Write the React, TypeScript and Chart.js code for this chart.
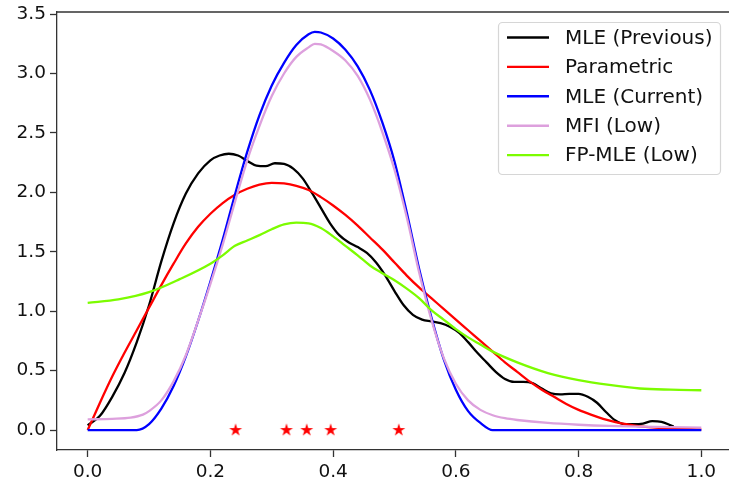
import React, { useEffect, useRef } from "react";
import { Chart, registerables } from "chart.js";

Chart.register(...registerables);

// ---- data ----
const seriesLabels = ["MLE (Previous)", "Parametric", "MLE (Current)", "MFI (Low)", "FP-MLE (Low)"];
const seriesColors = ["#000000", "#ff0000", "#0000ff", "#dda0dd", "#7cfc00"];

const blackX = [0, 0.02, 0.04, 0.06, 0.08, 0.10, 0.12, 0.14, 0.16, 0.18, 0.20, 0.215, 0.23, 0.245, 0.26, 0.275, 0.29, 0.305, 0.32, 0.335, 0.35, 0.365, 0.38, 0.395, 0.41, 0.425, 0.44, 0.455, 0.47, 0.485, 0.50, 0.515, 0.53, 0.545, 0.56, 0.575, 0.59, 0.605, 0.62, 0.635, 0.65, 0.665, 0.68, 0.695, 0.71, 0.725, 0.74, 0.755, 0.77, 0.785, 0.80, 0.815, 0.83, 0.845, 0.86, 0.875, 0.89, 0.905, 0.92, 0.935, 0.95, 0.955];
const blackY = [0.04, 0.12, 0.28, 0.48, 0.74, 1.05, 1.42, 1.74, 1.99, 2.16, 2.27, 2.31, 2.325, 2.31, 2.265, 2.225, 2.22, 2.245, 2.24, 2.20, 2.12, 2.0, 1.87, 1.74, 1.64, 1.58, 1.54, 1.49, 1.41, 1.30, 1.17, 1.05, 0.97, 0.93, 0.915, 0.90, 0.87, 0.82, 0.74, 0.65, 0.57, 0.49, 0.43, 0.405, 0.405, 0.395, 0.35, 0.31, 0.30, 0.305, 0.305, 0.28, 0.23, 0.15, 0.08, 0.05, 0.05, 0.055, 0.075, 0.07, 0.04, 0.03];

const redX = [0, 0.02, 0.04, 0.06, 0.08, 0.10, 0.12, 0.14, 0.16, 0.18, 0.20, 0.22, 0.24, 0.26, 0.28, 0.30, 0.32, 0.34, 0.36, 0.38, 0.40, 0.42, 0.44, 0.46, 0.48, 0.50, 0.52, 0.54, 0.56, 0.58, 0.60, 0.62, 0.64, 0.66, 0.68, 0.70, 0.72, 0.74, 0.76, 0.78, 0.80, 0.82, 0.84, 0.86, 0.88, 0.90, 0.92, 0.95, 1.0];
const redY = [0, 0.23, 0.45, 0.65, 0.84, 1.03, 1.22, 1.40, 1.57, 1.71, 1.82, 1.91, 1.98, 2.03, 2.065, 2.08, 2.075, 2.055, 2.02, 1.96, 1.89, 1.81, 1.72, 1.62, 1.52, 1.41, 1.30, 1.20, 1.11, 1.02, 0.93, 0.84, 0.75, 0.66, 0.57, 0.49, 0.41, 0.34, 0.28, 0.22, 0.17, 0.13, 0.095, 0.068, 0.047, 0.032, 0.022, 0.012, 0.005];

const blueX = [0, 0.04, 0.08, 0.10, 0.12, 0.14, 0.16, 0.18, 0.20, 0.22, 0.24, 0.26, 0.28, 0.30, 0.32, 0.34, 0.36, 0.37, 0.38, 0.40, 0.42, 0.44, 0.46, 0.48, 0.50, 0.52, 0.54, 0.56, 0.58, 0.60, 0.62, 0.64, 0.66, 0.70, 0.80, 0.90, 1.0];
const blueY = [0, 0, 0, 0.05, 0.18, 0.37, 0.62, 0.92, 1.25, 1.6, 1.98, 2.34, 2.65, 2.9, 3.09, 3.24, 3.33, 3.35, 3.345, 3.295, 3.2, 3.06, 2.86, 2.59, 2.26, 1.83, 1.36, 0.95, 0.6, 0.34, 0.16, 0.06, 0, 0, 0, 0, 0];

const plumX = [0, 0.04, 0.07, 0.09, 0.10, 0.12, 0.14, 0.16, 0.18, 0.20, 0.22, 0.24, 0.26, 0.28, 0.30, 0.32, 0.34, 0.36, 0.37, 0.38, 0.40, 0.42, 0.44, 0.46, 0.48, 0.50, 0.52, 0.54, 0.56, 0.58, 0.60, 0.62, 0.64, 0.66, 0.68, 0.70, 0.75, 0.80, 0.85, 0.90, 0.95, 1.0];
const plumY = [0.09, 0.095, 0.105, 0.13, 0.16, 0.25, 0.41, 0.63, 0.92, 1.23, 1.56, 1.92, 2.27, 2.56, 2.81, 3.0, 3.14, 3.22, 3.25, 3.245, 3.19, 3.11, 2.98, 2.78, 2.51, 2.19, 1.79, 1.33, 0.93, 0.61, 0.39, 0.25, 0.17, 0.125, 0.1, 0.085, 0.06, 0.045, 0.035, 0.03, 0.025, 0.02];

const greenX = [0, 0.05, 0.10, 0.15, 0.20, 0.22, 0.24, 0.26, 0.28, 0.30, 0.32, 0.34, 0.36, 0.38, 0.40, 0.42, 0.44, 0.46, 0.48, 0.50, 0.52, 0.54, 0.56, 0.58, 0.60, 0.62, 0.64, 0.66, 0.70, 0.75, 0.80, 0.85, 0.90, 0.95, 1.0];
const greenY = [1.07, 1.10, 1.16, 1.27, 1.40, 1.47, 1.55, 1.595, 1.64, 1.69, 1.73, 1.745, 1.74, 1.70, 1.63, 1.55, 1.47, 1.385, 1.32, 1.26, 1.19, 1.11, 1.01, 0.93, 0.85, 0.78, 0.72, 0.66, 0.57, 0.48, 0.42, 0.38, 0.35, 0.34, 0.335];

const starX = [0.241, 0.324, 0.357, 0.396, 0.507];
const starY = [0, 0, 0, 0, 0];

const xTicks = [0, 0.2, 0.4, 0.6, 0.8, 1.0];
const yTicks = [0, 0.5, 1.0, 1.5, 2.0, 2.5, 3.0, 3.5];

const FONT = "'DejaVu Sans', sans-serif";
const CANVAS_W = 800;
const PLOT_RIGHT = 732;

function makeStar(color: string): HTMLCanvasElement {
  const c = document.createElement("canvas");
  c.width = 16;
  c.height = 16;
  const g = c.getContext("2d")!;
  const cx = 8, cy = 8, R = 6.8, r = R * 0.382;
  g.beginPath();
  for (let i = 0; i < 10; i++) {
    const rad = i % 2 === 0 ? R : r;
    const a = -Math.PI / 2 + (i * Math.PI) / 5;
    const px = cx + rad * Math.cos(a);
    const py = cy + rad * Math.sin(a);
    if (i === 0) g.moveTo(px, py);
    else g.lineTo(px, py);
  }
  g.closePath();
  g.fillStyle = color;
  g.fill();
  return c;
}

const framePlugin = {
  id: "frame",
  afterDatasetsDraw(chart: any) {
    const { ctx, chartArea } = chart;
    ctx.save();
    ctx.strokeStyle = "#333333";
    ctx.lineWidth = 1.3;
    ctx.beginPath();
    ctx.moveTo(chartArea.left, chartArea.top);
    ctx.lineTo(chartArea.right, chartArea.top);
    ctx.lineTo(chartArea.right, chartArea.bottom);
    ctx.stroke();
    ctx.restore();
  },
};

const legendPlugin = {
  id: "mplLegend",
  afterDraw(chart: any) {
    const { ctx } = chart;
    const x0 = 498.5, y0 = 22.5, w = 222, h = 152, rr = 4;
    ctx.save();
    ctx.beginPath();
    ctx.moveTo(x0 + rr, y0);
    ctx.lineTo(x0 + w - rr, y0);
    ctx.arcTo(x0 + w, y0, x0 + w, y0 + rr, rr);
    ctx.lineTo(x0 + w, y0 + h - rr);
    ctx.arcTo(x0 + w, y0 + h, x0 + w - rr, y0 + h, rr);
    ctx.lineTo(x0 + rr, y0 + h);
    ctx.arcTo(x0, y0 + h, x0, y0 + h - rr, rr);
    ctx.lineTo(x0, y0 + rr);
    ctx.arcTo(x0, y0, x0 + rr, y0, rr);
    ctx.closePath();
    ctx.fillStyle = "rgba(255,255,255,0.8)";
    ctx.fill();
    ctx.strokeStyle = "#d6d6d6";
    ctx.lineWidth = 1.2;
    ctx.stroke();
    ctx.font = `20px ${FONT}`;
    ctx.textBaseline = "middle";
    ctx.textAlign = "left";
    seriesLabels.forEach((lab, i) => {
      const yy = 37.5 + i * 29.4;
      ctx.strokeStyle = seriesColors[i];
      ctx.lineWidth = 2.4;
      ctx.beginPath();
      ctx.moveTo(507, yy);
      ctx.lineTo(549, yy);
      ctx.stroke();
      ctx.fillStyle = "#111111";
      ctx.fillText(lab, 565, yy + 1);
    });
    ctx.restore();
  },
};

function pts(xs: number[], ys: number[]) {
  return xs.map((x, i) => ({ x, y: ys[i] }));
}

export default function App() {
  const ref = useRef<HTMLCanvasElement | null>(null);

  useEffect(() => {
    if (!ref.current) return;
    const seriesX = [blackX, redX, blueX, plumX, greenX];
    const seriesY = [blackY, redY, blueY, plumY, greenY];
    const datasets: any[] = seriesLabels.map((lab, i) => ({
      type: "line",
      label: lab,
      data: pts(seriesX[i], seriesY[i]),
      borderColor: seriesColors[i],
      backgroundColor: seriesColors[i],
      borderWidth: 2.3,
      pointRadius: 0,
      fill: false,
      cubicInterpolationMode: "monotone",
      order: 5 - i,
    }));
    datasets.push({
      type: "line",
      showLine: false,
      label: "stars",
      data: pts(starX, starY),
      pointStyle: makeStar("#ff0000"),
      pointRadius: 7,
      backgroundColor: "#ff0000",
      borderColor: "#ff0000",
      order: -1,
    });

    const chart = new Chart(ref.current, {
      type: "line",
      data: { datasets },
      plugins: [framePlugin, legendPlugin],
      options: {
        responsive: false,
        animation: false,
        layout: { padding: { top: 12, right: CANVAS_W - PLOT_RIGHT, left: 0, bottom: 0 } },
        plugins: { legend: { display: false }, tooltip: { enabled: false } },
        scales: {
          x: {
            type: "linear",
            min: -0.05,
            max: 1.05,
            afterBuildTicks: (s: any) => {
              s.ticks = xTicks.map((v) => ({ value: v }));
            },
            afterFit: (s: any) => {
              s.height = 36;
              s.paddingLeft = 0;
              s.paddingRight = 0;
            },
            grid: { drawOnChartArea: false, drawTicks: true, tickLength: 7, tickColor: "#333333", tickWidth: 1.3 },
            border: { display: true, color: "#333333", width: 1.3 },
            ticks: {
              padding: 4,
              color: "#111111",
              font: { family: FONT, size: 18.5 },
              maxRotation: 0,
              autoSkip: false,
              callback: (v: any) => Number(v).toFixed(1),
            },
          },
          y: {
            type: "linear",
            min: -0.1675,
            max: 3.5175,
            afterBuildTicks: (s: any) => {
              s.ticks = yTicks.map((v) => ({ value: v }));
            },
            afterFit: (s: any) => {
              s.width = 57;
              s.paddingTop = 0;
              s.paddingBottom = 0;
            },
            grid: { drawOnChartArea: false, drawTicks: true, tickLength: 7, tickColor: "#333333", tickWidth: 1.3 },
            border: { display: true, color: "#333333", width: 1.3 },
            ticks: {
              padding: 4,
              color: "#111111",
              font: { family: FONT, size: 18.5 },
              autoSkip: false,
              callback: (v: any) => Number(v).toFixed(1),
            },
          },
        },
      } as any,
    });
    return () => chart.destroy();
  }, []);

  return (
    <div style={{ position: "absolute", left: 0, top: 0, width: 729, height: 486, overflow: "hidden", background: "#fff" }}>
      <canvas ref={ref} width={CANVAS_W} height={486} style={{ width: CANVAS_W, height: 486, display: "block" }} />
    </div>
  );
}
